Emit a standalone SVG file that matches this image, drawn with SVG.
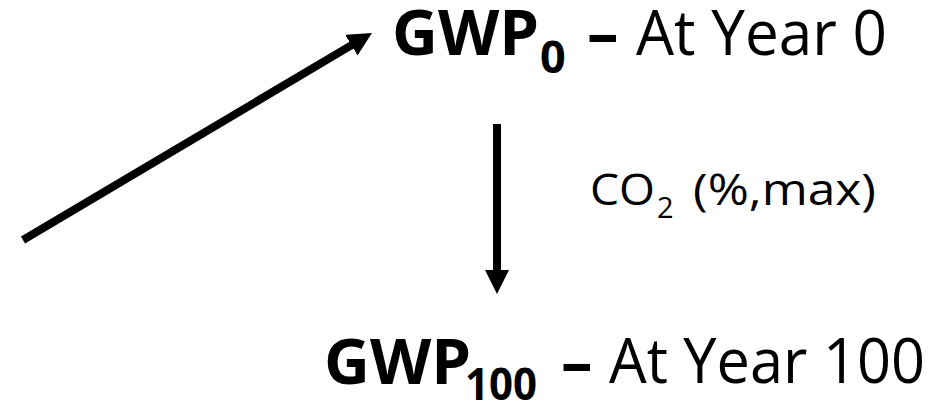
<svg xmlns="http://www.w3.org/2000/svg" width="933" height="402" viewBox="0 0 933 402">
<style>
.t{font-family:"Open Sans","Noto Sans","Liberation Sans",sans-serif;fill:#000}
.big{font-size:62px}
.b{font-weight:bold;font-size:63px}
.sub{font-weight:bold;font-size:45px}
.lbl{font-size:44px}
.lsub{font-size:29px}
.c{stroke:#000;stroke-width:8;fill:none}
</style>
<defs>
<marker id="ah" markerUnits="userSpaceOnUse" markerWidth="24" markerHeight="24" viewBox="0 0 24 24" refX="12" refY="12" orient="auto">
<path d="M0,0 L24,12 L0,24 Z" fill="#000"/>
</marker>
</defs>
<g id="connectors">
<line class="c" x1="23" y1="240" x2="361.7" y2="39.1" marker-end="url(#ah)"/>
<line class="c" x1="497" y1="124" x2="497" y2="282" marker-end="url(#ah)"/>
</g>
<g id="gwp0">
<text class="t b" x="392" y="55" textLength="147" lengthAdjust="spacingAndGlyphs">GWP</text>
<text class="t sub" x="540" y="73">0</text>
<text class="t b" x="587" y="55">–</text>
<text class="t big" x="636" y="55" textLength="251" lengthAdjust="spacingAndGlyphs">At Year 0</text>
</g>
<g id="gwp100">
<text class="t b" x="324" y="384" textLength="147" lengthAdjust="spacingAndGlyphs">GWP</text>
<text class="t sub" x="465" y="400" textLength="72" lengthAdjust="spacingAndGlyphs">100</text>
<text class="t b" x="561" y="384">–</text>
<text class="t big" x="609" y="383" textLength="316" lengthAdjust="spacingAndGlyphs">At Year 100</text>
</g>
<g id="label">
<text class="t lbl" x="590" y="205" textLength="65" lengthAdjust="spacingAndGlyphs">CO</text>
<text class="t lsub" x="657" y="218">2</text>
<text class="t lbl" x="693" y="205" textLength="183" lengthAdjust="spacingAndGlyphs">(%,max)</text>
</g>
</svg>
